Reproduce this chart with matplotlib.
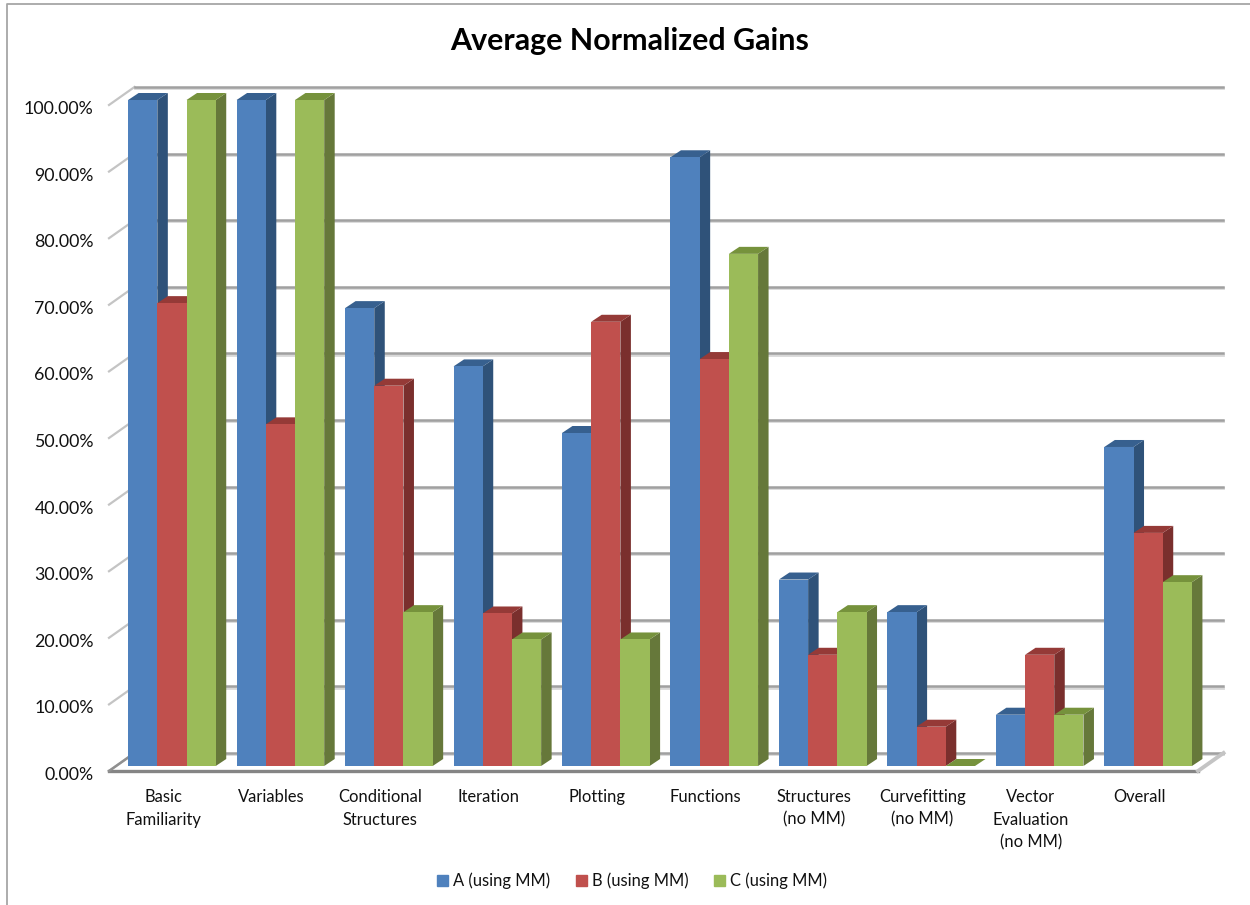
import matplotlib
matplotlib.use('Agg')
import matplotlib.pyplot as plt
from matplotlib.lines import Line2D
from matplotlib.patches import Patch
from matplotlib.transforms import ScaledTranslation

plt.rcParams['font.family'] = ['Lato', 'DejaVu Sans']

# data
categories = ['Basic\nFamiliarity', 'Variables', 'Conditional\nStructures', 'Iteration', 'Plotting',
              'Functions', 'Structures\n(no MM)', 'Curvefitting\n(no MM)', 'Vector\nEvaluation\n(no MM)', 'Overall']
series_names = ['A (using MM)', 'B (using MM)', 'C (using MM)']
a_values = [100, 100, 68.75, 60, 50, 91.4, 28, 23.1, 7.7, 47.9]
b_values = [69.5, 51.3, 57.1, 22.9, 66.7, 61.1, 16.7, 5.9, 16.7, 35]
c_values = [100, 100, 23.1, 19, 19, 76.9, 23.1, 0, 7.7, 27.6]
y_ticks = [0, 10, 20, 30, 40, 50, 60, 70, 80, 90, 100]

front_colors = ['#4f81bd', '#c0504d', '#9bbb59']
side_colors = ['#2f5279', '#7a2f2d', '#66783a']
top_colors = ['#37608f', '#953a37', '#76923c']

fig = plt.figure(figsize=(12.5, 9.05), dpi=100)
ax = fig.add_axes([109 / 1250, (905 - 771) / 905, 1089 / 1250, 666 / 905])
ax.set_xlim(0, 10.04)
ax.set_ylim(0, 100)

# pixel sizes turned into data units
px_x = 10.04 / 1089
px_y = 100 / 666
wall_dx, wall_dy = 25.5 * px_x, 18 * px_y
bar_dx, bar_dy = 10.5 * px_x, 7 * px_y
base_dx, base_dy = 8.7 * px_x, 5 * px_y
bar_w = 29.2 * px_x

# back wall grid and slanted left wall lines
for t in y_ticks:
    ax.plot([wall_dx, 10.04 + wall_dx - 1 * px_x], [t + wall_dy - 1.2 * px_y] * 2, color='#d8d8d8', lw=2, clip_on=False, zorder=1)
    ax.plot([wall_dx, 10.04 + wall_dx - 1 * px_x], [t + wall_dy] * 2, color='#a0a0a0', lw=1.8, clip_on=False, zorder=1.1)
    ax.plot([0, wall_dx], [t, t + wall_dy], color='#c4c4c4', lw=1.6, clip_on=False, zorder=1)

# floor
ax.plot([0, 10.04], [0, 0], color='#858585', lw=2.4, clip_on=False, zorder=2)
ax.plot([0, wall_dx], [0, wall_dy], color='#909090', lw=1.8, clip_on=False, zorder=2)
ax.plot([10.04, 10.04 + wall_dx], [0, wall_dy], color='#c4c4c4', lw=2.8, clip_on=False, zorder=2)

all_values = [a_values, b_values, c_values]
z = 3
for i in range(len(categories)):
    for s in range(3):
        v = all_values[s][i]
        x0 = i + 0.5 + (s - 1.5) * bar_w + base_dx
        x1 = x0 + bar_w
        y0 = base_dy
        y1 = v + base_dy
        # side face, top face, then the front
        ax.fill([x1, x1 + bar_dx, x1 + bar_dx, x1], [y0, y0 + bar_dy, y1 + bar_dy, y1],
                color=side_colors[s], lw=0, clip_on=False, zorder=z)
        ax.fill([x0, x0 + bar_dx, x1 + bar_dx, x1], [y1, y1 + bar_dy, y1 + bar_dy, y1],
                color=top_colors[s], lw=0, clip_on=False, zorder=z + 0.1)
        ax.bar(x0, v, width=bar_w, bottom=base_dy, align='edge', color=front_colors[s], lw=0,
               clip_on=False, zorder=z + 0.2)
        z += 1

ax.set_xticks([i + 0.5 for i in range(len(categories))])
ax.set_xticklabels(categories, fontsize=11.9, color='#111111', linespacing=1.5)
ax.set_yticks(y_ticks)
ax.set_yticklabels(['%.2f%%' % t for t in y_ticks], fontsize=12.8, color='#111111')
ax.tick_params(axis='x', length=0, pad=13)
ax.tick_params(axis='y', length=0, pad=11)
for lab in ax.get_yticklabels():
    lab.set_transform(lab.get_transform() + ScaledTranslation(0, -2.5 / 100, fig.dpi_scale_trans))
for sp in ax.spines.values():
    sp.set_visible(False)

fig.text(629.5 / 1250, 1 - 41 / 905, 'Average Normalized Gains', fontsize=21.85, fontweight='bold',
         ha='center', va='center', color='black')

handles = [Patch(color=c) for c in front_colors]
fig.legend(handles, series_names, loc='center', bbox_to_anchor=(632 / 1250, 1 - 881 / 905), ncol=3,
           frameon=False, fontsize=11.9, handlelength=0.68, handleheight=0.68, handletextpad=0.3,
           columnspacing=1.55, labelcolor='#111111')

# outer chart border, only top and left are in the picture
fig.add_artist(Line2D([7 / 1250, 7 / 1250, 1], [0, 1 - 4.5 / 905, 1 - 4.5 / 905], color='#a6a6a6', lw=1.3))

fig.savefig('out.png', dpi=100)
